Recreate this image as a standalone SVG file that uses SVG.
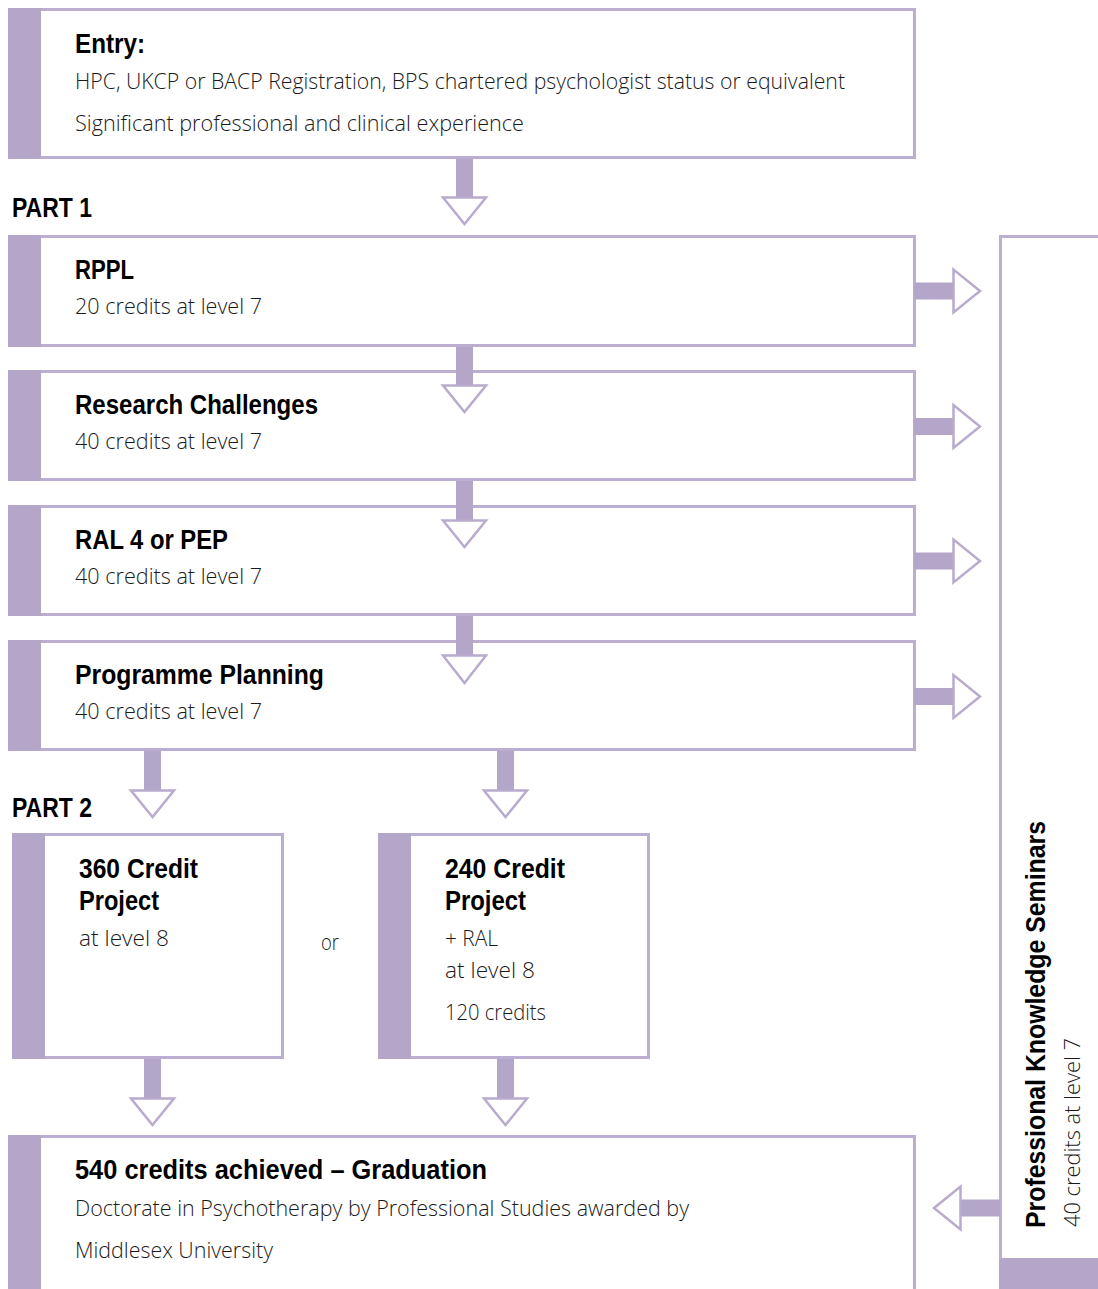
<svg xmlns="http://www.w3.org/2000/svg" width="1098" height="1289" viewBox="0 0 1098 1289">
<defs>
<style>
.bar{fill:#b4a6c9;}
.box{fill:#ffffff;stroke:#bcaed1;stroke-width:3;}
.shaft{fill:#b4a6c9;}
.head{fill:#ffffff;stroke:#b9abcd;stroke-width:2.5;stroke-linejoin:miter;}
.t{font-family:"Liberation Sans","Open Sans",sans-serif;font-weight:bold;font-size:27px;fill:#000;}
.r{font-family:"Open Sans","Liberation Sans",sans-serif;font-weight:300;font-size:22px;fill:#1a1a1a;}
</style>
</defs>
<rect width="1098" height="1289" fill="#ffffff"/>

<g id="entry">
<rect class="box" x="9.5" y="9.5" width="905" height="148"/>
<rect class="bar" x="8" y="8" width="33" height="151"/>
<text class="t" x="75" y="53" textLength="70" lengthAdjust="spacingAndGlyphs">Entry:</text>
<text class="r" x="75" y="89" textLength="770" lengthAdjust="spacingAndGlyphs">HPC, UKCP or BACP Registration, BPS chartered psychologist status or equivalent</text>
<text class="r" x="75" y="131" textLength="449" lengthAdjust="spacingAndGlyphs">Significant professional and clinical experience</text>
</g>

<text id="part1" class="t" x="12" y="217" textLength="80" lengthAdjust="spacingAndGlyphs">PART 1</text>

<g id="rppl">
<rect class="box" x="9.5" y="236.5" width="905" height="109"/>
<rect class="bar" x="8" y="235" width="33" height="112"/>
<text class="t" x="75" y="279" textLength="59" lengthAdjust="spacingAndGlyphs">RPPL</text>
<text class="r" x="75" y="314" textLength="187" lengthAdjust="spacingAndGlyphs">20 credits at level 7</text>
</g>

<g id="research">
<rect class="box" x="9.5" y="371.5" width="905" height="108"/>
<rect class="bar" x="8" y="370" width="33" height="111"/>
<text class="t" x="75" y="414" textLength="243" lengthAdjust="spacingAndGlyphs">Research Challenges</text>
<text class="r" x="75" y="449" textLength="187" lengthAdjust="spacingAndGlyphs">40 credits at level 7</text>
</g>

<g id="ral">
<rect class="box" x="9.5" y="506.5" width="905" height="108"/>
<rect class="bar" x="8" y="505" width="33" height="111"/>
<text class="t" x="75" y="549" textLength="153" lengthAdjust="spacingAndGlyphs">RAL 4 or PEP</text>
<text class="r" x="75" y="584" textLength="187" lengthAdjust="spacingAndGlyphs">40 credits at level 7</text>
</g>

<g id="planning">
<rect class="box" x="9.5" y="641.5" width="905" height="108"/>
<rect class="bar" x="8" y="640" width="33" height="111"/>
<text class="t" x="75" y="684" textLength="249" lengthAdjust="spacingAndGlyphs">Programme Planning</text>
<text class="r" x="75" y="719" textLength="187" lengthAdjust="spacingAndGlyphs">40 credits at level 7</text>
</g>

<text id="part2" class="t" x="12" y="817" textLength="80" lengthAdjust="spacingAndGlyphs">PART 2</text>

<g id="p360">
<rect class="box" x="13.5" y="834.5" width="269" height="223"/>
<rect class="bar" x="12" y="833" width="33" height="226"/>
<text class="t" x="79" y="878" textLength="119" lengthAdjust="spacingAndGlyphs">360 Credit</text>
<text class="t" x="79" y="910" textLength="80" lengthAdjust="spacingAndGlyphs">Project</text>
<text class="r" x="79" y="946" textLength="90" lengthAdjust="spacingAndGlyphs">at level 8</text>
</g>

<text id="or" class="r" x="321" y="950" textLength="18" lengthAdjust="spacingAndGlyphs">or</text>

<g id="p240">
<rect class="box" x="379.5" y="834.5" width="269" height="223"/>
<rect class="bar" x="378" y="833" width="33" height="226"/>
<text class="t" x="445" y="878" textLength="120" lengthAdjust="spacingAndGlyphs">240 Credit</text>
<text class="t" x="445" y="910" textLength="81" lengthAdjust="spacingAndGlyphs">Project</text>
<text class="r" x="445" y="946" textLength="53" lengthAdjust="spacingAndGlyphs">+ RAL</text>
<text class="r" x="445" y="978" textLength="90" lengthAdjust="spacingAndGlyphs">at level 8</text>
<text class="r" x="445" y="1020" textLength="101" lengthAdjust="spacingAndGlyphs">120 credits</text>
</g>

<g id="graduation">
<rect class="box" x="9.5" y="1136.5" width="905" height="200"/>
<rect class="bar" x="8" y="1135" width="33" height="160"/>
<text class="t" x="75" y="1179" textLength="412" lengthAdjust="spacingAndGlyphs">540 credits achieved – Graduation</text>
<text class="r" x="75" y="1216" textLength="614" lengthAdjust="spacingAndGlyphs">Doctorate in Psychotherapy by Professional Studies awarded by</text>
<text class="r" x="75" y="1258" textLength="198" lengthAdjust="spacingAndGlyphs">Middlesex University</text>
</g>

<g id="seminars">
<rect class="box" x="1000.5" y="236.5" width="200" height="1100"/>
<rect class="bar" x="999" y="1258" width="120" height="40"/>
<text class="t" transform="translate(1045,1228) rotate(-90)" x="0" y="0" font-size="28" textLength="407" lengthAdjust="spacingAndGlyphs">Professional Knowledge Seminars</text>
<text class="r" transform="translate(1080,1227) rotate(-90)" x="0" y="0" textLength="189" lengthAdjust="spacingAndGlyphs">40 credits at level 7</text>
</g>

<g id="connectors">
<rect class="shaft" x="456" y="159" width="17" height="39"/>
<polygon class="head" points="443,197.5 486,197.5 464.5,224"/>
<rect class="shaft" x="456" y="347" width="17" height="39"/>
<polygon class="head" points="443,385.5 486,385.5 464.5,412"/>
<rect class="shaft" x="456" y="481" width="17" height="40"/>
<polygon class="head" points="443,520.5 486,520.5 464.5,547"/>
<rect class="shaft" x="456" y="616" width="17" height="40"/>
<polygon class="head" points="443,655.5 486,655.5 464.5,683"/>
<rect class="shaft" x="144" y="751" width="17" height="40"/>
<polygon class="head" points="131,790.5 174,790.5 152.5,817"/>
<rect class="shaft" x="497" y="751" width="17" height="40"/>
<polygon class="head" points="484,790.5 527,790.5 505.5,817"/>
<rect class="shaft" x="144" y="1059" width="17" height="40"/>
<polygon class="head" points="131,1098.5 174,1098.5 152.5,1125"/>
<rect class="shaft" x="497" y="1059" width="17" height="40"/>
<polygon class="head" points="484,1098.5 527,1098.5 505.5,1125"/>
<rect class="shaft" x="914" y="282.5" width="40" height="17"/>
<polygon class="head" points="953.5,269.5 953.5,312.5 980,291"/>
<rect class="shaft" x="914" y="418" width="40" height="17"/>
<polygon class="head" points="953.5,405 953.5,448 980,426.5"/>
<rect class="shaft" x="914" y="552.5" width="40" height="17"/>
<polygon class="head" points="953.5,539.5 953.5,582.5 980,561"/>
<rect class="shaft" x="914" y="688" width="40" height="17"/>
<polygon class="head" points="953.5,675 953.5,718 980,696.5"/>
<rect class="shaft" x="960" y="1199.5" width="40" height="17"/>
<polygon class="head" points="960.5,1186.5 960.5,1229.5 934,1208"/>
</g>
</svg>
